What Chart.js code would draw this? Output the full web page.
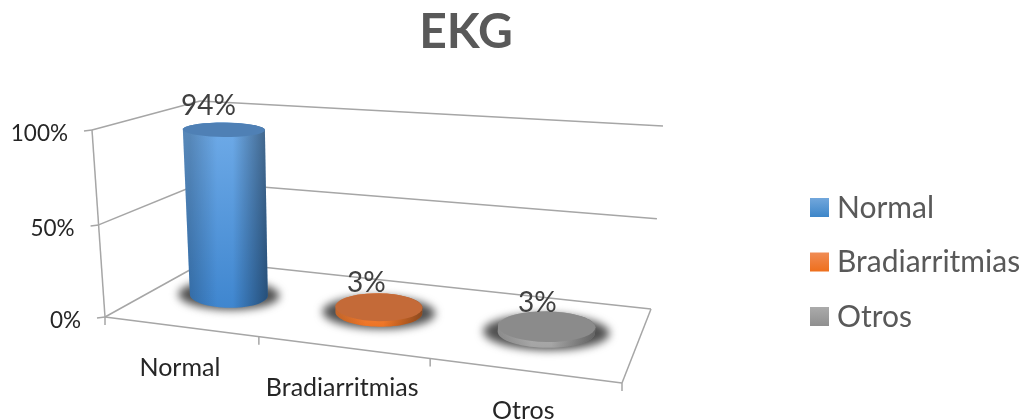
<!DOCTYPE html>
<html>
<head>
<meta charset="utf-8">
<title>EKG</title>
<script src="https://cdn.jsdelivr.net/npm/chart.js@4"></script>
<style>
  html, body { margin: 0; padding: 0; background: #fff; }
  canvas { display: block; }
</style>
</head>
<body>
<canvas id="ekg_chart" width="1024" height="419"></canvas>
<script>
var categories = ['Normal', 'Bradiarritmias', 'Otros'];
var percentages = [94, 3, 3];
var yTickValues = [0, 50, 100];

var sideColors = [['#6fabe8', '#3f86cf'], ['#f58d4f', '#ee7424'], ['#bdbdbd', '#a3a3a3']];
var topColors = ['#4f80b5', '#c46a38', '#8b8b8b'];
var legendColors = [['#72a7dc', '#3d86c9'], ['#f08c55', '#ee6f1c'], ['#ababab', '#8f8f8f']];

// the box the 2d chart area gets folded into, [x, y] on the page
var box = {
  frontBottomLeft: [105, 317], frontBottomRight: [622, 383],
  backBottomLeft: [206, 261], backBottomRight: [651, 309],
  frontTopLeft: [92, 130], frontTopRight: [647, 169],
  backTopLeft: [200, 101], backTopRight: [663, 126]
};
var lineColor = '#a6a6a6';
var barDepth = 0.54;

function mix(a, b, t) {
  return [a[0] + (b[0] - a[0]) * t, a[1] + (b[1] - a[1]) * t];
}

// chart pixel + depth (0 front, 1 back) to page position
function project(chart, px, py, depth) {
  var area = chart.chartArea;
  var u = (px - area.left) / (area.right - area.left);
  var h = (area.bottom - py) / (area.bottom - area.top);
  u = u / (u + 1.18 * (1 - u));
  h = h * (0.97 + 0.03 * h);
  var bottom = mix(mix(box.frontBottomLeft, box.frontBottomRight, u), mix(box.backBottomLeft, box.backBottomRight, u), depth);
  var top = mix(mix(box.frontTopLeft, box.frontTopRight, u), mix(box.backTopLeft, box.backTopRight, u), depth);
  return mix(bottom, top, h);
}

function line(ctx, a, b) {
  ctx.beginPath();
  ctx.moveTo(a[0], a[1]);
  ctx.lineTo(b[0], b[1]);
  ctx.stroke();
}

function ringPoints(chart, bar, py, from, to, scaleX, scaleY) {
  var center = project(chart, bar.x, py, barDepth);
  var side = project(chart, bar.x + bar.width / 2, py, barDepth);
  var ry = (project(chart, bar.x, py, barDepth - 0.22)[1] - project(chart, bar.x, py, barDepth + 0.22)[1]) / 2;
  var points = [];
  var steps = 36;
  for (var i = 0; i <= steps; i++) {
    var t = from + (to - from) * i / steps;
    points.push([
      center[0] + (side[0] - center[0]) * Math.cos(t) * scaleX,
      // rims are almost flat in the original, only a hint of the floor slope
      center[1] + (side[1] - center[1]) * 0.12 * Math.cos(t) * scaleX - ry * Math.sin(t) * scaleY
    ]);
  }
  return points;
}

function fillPoints(ctx, points, style) {
  ctx.beginPath();
  points.forEach(function(p, i) {
    if (i === 0) ctx.moveTo(p[0], p[1]);
    else ctx.lineTo(p[0], p[1]);
  });
  ctx.closePath();
  ctx.fillStyle = style;
  ctx.fill();
}

var box3d = {
  id: 'box3d',
  beforeDatasetsDraw: function(chart) {
    var ctx = chart.ctx;
    var x = chart.scales.x;
    var y = chart.scales.y;
    var area = chart.chartArea;
    ctx.save();
    ctx.strokeStyle = lineColor;
    ctx.lineWidth = 1.5;

    // walls
    y.ticks.forEach(function(tick) {
      var py = y.getPixelForValue(tick.value);
      var front = project(chart, area.left, py, 0);
      line(ctx, [front[0] - 8, front[1] + 1], front);
      line(ctx, front, project(chart, area.left, py, 1));
      line(ctx, project(chart, area.left, py, 1), project(chart, area.right, py, 1));
    });
    line(ctx, project(chart, area.left, area.bottom, 0), project(chart, area.left, area.top, 0));

    // floor
    line(ctx, project(chart, area.left, area.bottom, 0), project(chart, area.right, area.bottom, 0));
    line(ctx, project(chart, area.right, area.bottom, 0), project(chart, area.right, area.bottom, 1));
    for (var i = 0; i <= categories.length; i++) {
      var p = project(chart, area.left + (area.right - area.left) * i / categories.length, area.bottom, 0);
      line(ctx, p, [p[0], p[1] + 8]);
    }

    // tick labels
    ctx.font = '22.5px Lato';
    ctx.fillStyle = '#262626';
    ctx.textBaseline = 'middle';
    ctx.textAlign = 'right';
    y.ticks.forEach(function(tick) {
      var front = project(chart, area.left, y.getPixelForValue(tick.value), 0);
      ctx.fillText(tick.label, front[0] - 24, front[1] + 4);
    });
    ctx.font = '25px Lato';
    ctx.textAlign = 'center';
    categories.forEach(function(name, i) {
      var p = project(chart, x.getPixelForValue(i), area.bottom, 0);
      ctx.fillText(name, p[0], p[1] + 41);
    });
    ctx.restore();
  },
  afterDatasetsDraw: function(chart) {
    var ctx = chart.ctx;
    var area = chart.chartArea;
    var bars = chart.getDatasetMeta(0).data;
    ctx.save();
    bars.forEach(function(bar, i) {
      // soft shadow on the floor
      ctx.save();
      ctx.filter = 'blur(4px)';
      fillPoints(ctx, ringPoints(chart, bar, bar.base, 0, Math.PI * 2, 1.3, 1.15), '#505050');
      ctx.restore();

      var front = ringPoints(chart, bar, bar.base, Math.PI, Math.PI * 2, 1, 1);
      var back = ringPoints(chart, bar, bar.y, 0, Math.PI, 1, 1);
      var body = front.concat(back);
      var left = front[0];
      var right = front[front.length - 1];
      var topY = back[18][1];

      var vertical = ctx.createLinearGradient(0, topY, 0, front[18][1]);
      vertical.addColorStop(0, sideColors[i][0]);
      vertical.addColorStop(1, sideColors[i][1]);
      fillPoints(ctx, body, vertical);

      var shade = ctx.createLinearGradient(left[0], 0, right[0], 0);
      shade.addColorStop(0, 'rgba(0,0,0,0.2)');
      shade.addColorStop(0.35, 'rgba(0,0,0,0)');
      shade.addColorStop(0.55, 'rgba(0,0,0,0)');
      shade.addColorStop(1, 'rgba(0,0,0,0.42)');
      fillPoints(ctx, body, shade);

      fillPoints(ctx, ringPoints(chart, bar, bar.y, 0, Math.PI * 2, 1, 1), topColors[i]);
    });

    // value labels
    ctx.font = '28px Lato';
    ctx.fillStyle = '#404040';
    ctx.textAlign = 'center';
    ctx.textBaseline = 'middle';
    bars.forEach(function(bar, i) {
      var p = project(chart, bar.x, bar.y, barDepth);
      var drift = (bar.x - area.left) / (area.right - area.left) * 9;
      ctx.fillText(percentages[i] + '%', p[0] - 17 + drift, p[1] - 24);
    });

    // legend, swatch sits closer to its text than the stock legend allows
    ctx.font = '30px Lato';
    ctx.textAlign = 'left';
    categories.forEach(function(name, i) {
      var rowY = 207 + i * 54.5;
      var fill = ctx.createLinearGradient(0, rowY - 9, 0, rowY + 10);
      fill.addColorStop(0, legendColors[i][0]);
      fill.addColorStop(1, legendColors[i][1]);
      ctx.fillStyle = fill;
      ctx.fillRect(810, rowY - 9, 19, 19);
      ctx.fillStyle = '#595959';
      ctx.fillText(name, 837, rowY + 1);
    });
    ctx.restore();
  }
};

new Chart(document.getElementById('ekg_chart').getContext('2d'), {
  type: 'bar',
  data: {
    labels: categories,
    datasets: [{
      data: percentages,
      backgroundColor: 'transparent',
      categoryPercentage: 1,
      barPercentage: 0.54
    }]
  },
  plugins: [box3d],
  options: {
    responsive: false,
    animation: false,
    layout: { padding: { top: 0, right: 92, bottom: 0, left: 0 } },
    scales: {
      x: { display: false },
      y: {
        display: false,
        min: 0,
        max: 100,
        afterBuildTicks: function(scale) {
          scale.ticks = yTickValues.map(function(v) { return { value: v }; });
        },
        ticks: { callback: function(v) { return v + '%'; } }
      }
    },
    plugins: {
      tooltip: { enabled: false },
      legend: { display: false },
      title: {
        display: true,
        text: 'EKG',
        color: '#595959',
        font: { family: 'Lato', size: 48, weight: 'bold' },
        padding: { top: 4, bottom: 10 }
      }
    }
  }
});
</script>
</body>
</html>
